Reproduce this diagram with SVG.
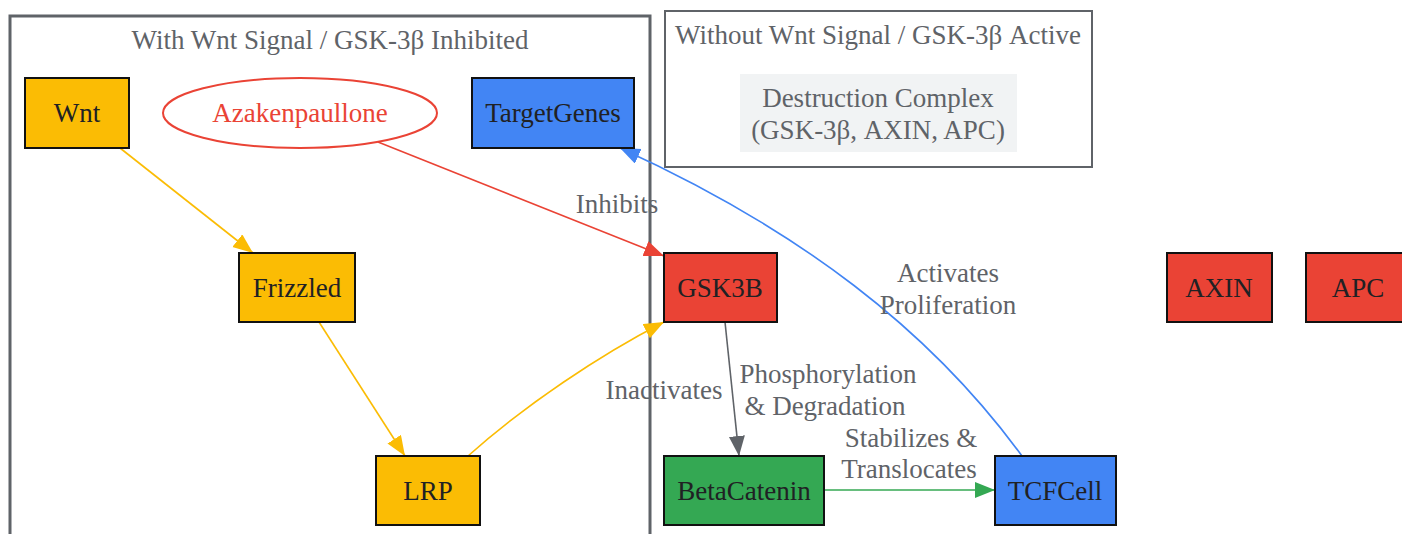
<svg xmlns="http://www.w3.org/2000/svg" width="1402" height="534" viewBox="0 0 1402 534">
<style>
text{font-family:"Liberation Serif","Times New Roman",serif;font-size:27px;text-anchor:middle}
.cl{fill:none;stroke:#5f6368}
.ct{fill:#5f6368}
.n{stroke:#111;stroke-width:2}
.nt{fill:#202124}
.lbl{fill:#5f6368}
.e{fill:none;stroke-width:1.6}
</style>
<defs>
<marker id="ay" markerUnits="userSpaceOnUse" markerWidth="21" markerHeight="17" refX="20" refY="8" orient="auto"><path d="M0,0 L20,8 L0,16 z" fill="#fbbc04"/></marker>
<marker id="ar" markerUnits="userSpaceOnUse" markerWidth="21" markerHeight="17" refX="20" refY="8" orient="auto"><path d="M0,0 L20,8 L0,16 z" fill="#ea4335"/></marker>
<marker id="ag" markerUnits="userSpaceOnUse" markerWidth="21" markerHeight="17" refX="20" refY="8" orient="auto"><path d="M0,0 L20,8 L0,16 z" fill="#5f6368"/></marker>
<marker id="agr" markerUnits="userSpaceOnUse" markerWidth="21" markerHeight="17" refX="20" refY="8" orient="auto"><path d="M0,0 L20,8 L0,16 z" fill="#34a853"/></marker>
<marker id="ab" markerUnits="userSpaceOnUse" markerWidth="21" markerHeight="17" refX="20" refY="8" orient="auto"><path d="M0,0 L20,8 L0,16 z" fill="#4285f4"/></marker>
</defs>
<rect width="1402" height="534" fill="#fff"/>
<g id="cluster-with">
<rect class="cl" x="10" y="16" width="640" height="530" stroke-width="3"/>
<text class="ct" x="330" y="49">With Wnt Signal / GSK-3β Inhibited</text>
</g>
<g id="cluster-without">
<rect class="cl" x="665" y="11" width="427" height="156" stroke-width="2"/>
<text class="ct" x="878" y="44">Without Wnt Signal / GSK-3β Active</text>
<rect x="740" y="74" width="277" height="78" fill="#f1f3f4"/>
<text class="ct" x="878" y="107">Destruction Complex</text>
<text class="ct" x="878" y="139">(GSK-3β, AXIN, APC)</text>
</g>
<g id="connectors">
<path class="e" d="M120,148 L253,253" stroke="#fbbc04" marker-end="url(#ay)"/>
<path class="e" d="M319,322 L405,456" stroke="#fbbc04" marker-end="url(#ay)"/>
<path class="e" d="M468,456 C525,405 600,355 664,322" stroke="#fbbc04" marker-end="url(#ay)"/>
<path class="e" d="M378,142 L664,256" stroke="#ea4335" marker-end="url(#ar)"/>
<path class="e" d="M725,322 L739,456" stroke="#5f6368" marker-end="url(#ag)"/>
<path class="e" d="M824,490 L995,490" stroke="#34a853" marker-end="url(#agr)"/>
<path class="e" d="M1022,456 C930,330 800,230 620,148" stroke="#4285f4" marker-end="url(#ab)"/>
<text class="lbl" x="617" y="213">Inhibits</text>
<text class="lbl" x="664" y="399">Inactivates</text>
<text class="lbl" x="828" y="383">Phosphorylation</text>
<text class="lbl" x="825" y="415">&amp; Degradation</text>
<text class="lbl" x="911" y="447">Stabilizes &amp;</text>
<text class="lbl" x="909" y="478">Translocates</text>
<text class="lbl" x="948" y="282">Activates</text>
<text class="lbl" x="948" y="314">Proliferation</text>
</g>
<g id="Wnt"><rect class="n" x="25" y="78" width="104" height="70" fill="#fbbc04"/><text class="nt" x="77" y="122">Wnt</text></g>
<g id="Azakenpaullone"><ellipse cx="300" cy="113" rx="137" ry="35" fill="#fff" stroke="#ea4335" stroke-width="2"/><text x="300" y="122" fill="#ea4335">Azakenpaullone</text></g>
<g id="TargetGenes"><rect class="n" x="472" y="78" width="162" height="70" fill="#4285f4"/><text class="nt" x="553" y="122">TargetGenes</text></g>
<g id="Frizzled"><rect class="n" x="239" y="253" width="116" height="69" fill="#fbbc04"/><text class="nt" x="297" y="297">Frizzled</text></g>
<g id="LRP"><rect class="n" x="376" y="456" width="104" height="69" fill="#fbbc04"/><text class="nt" x="428" y="500">LRP</text></g>
<g id="GSK3B"><rect class="n" x="664" y="253" width="113" height="69" fill="#ea4335"/><text class="nt" x="720" y="297">GSK3B</text></g>
<g id="AXIN"><rect class="n" x="1167" y="253" width="105" height="69" fill="#ea4335"/><text class="nt" x="1219" y="297">AXIN</text></g>
<g id="APC"><rect class="n" x="1306" y="253" width="104" height="69" fill="#ea4335"/><text class="nt" x="1358" y="297">APC</text></g>
<g id="BetaCatenin"><rect class="n" x="664" y="456" width="160" height="69" fill="#34a853"/><text class="nt" x="744" y="500">BetaCatenin</text></g>
<g id="TCFCell"><rect class="n" x="995" y="456" width="121" height="69" fill="#4285f4"/><text class="nt" x="1055" y="500">TCFCell</text></g>
</svg>
